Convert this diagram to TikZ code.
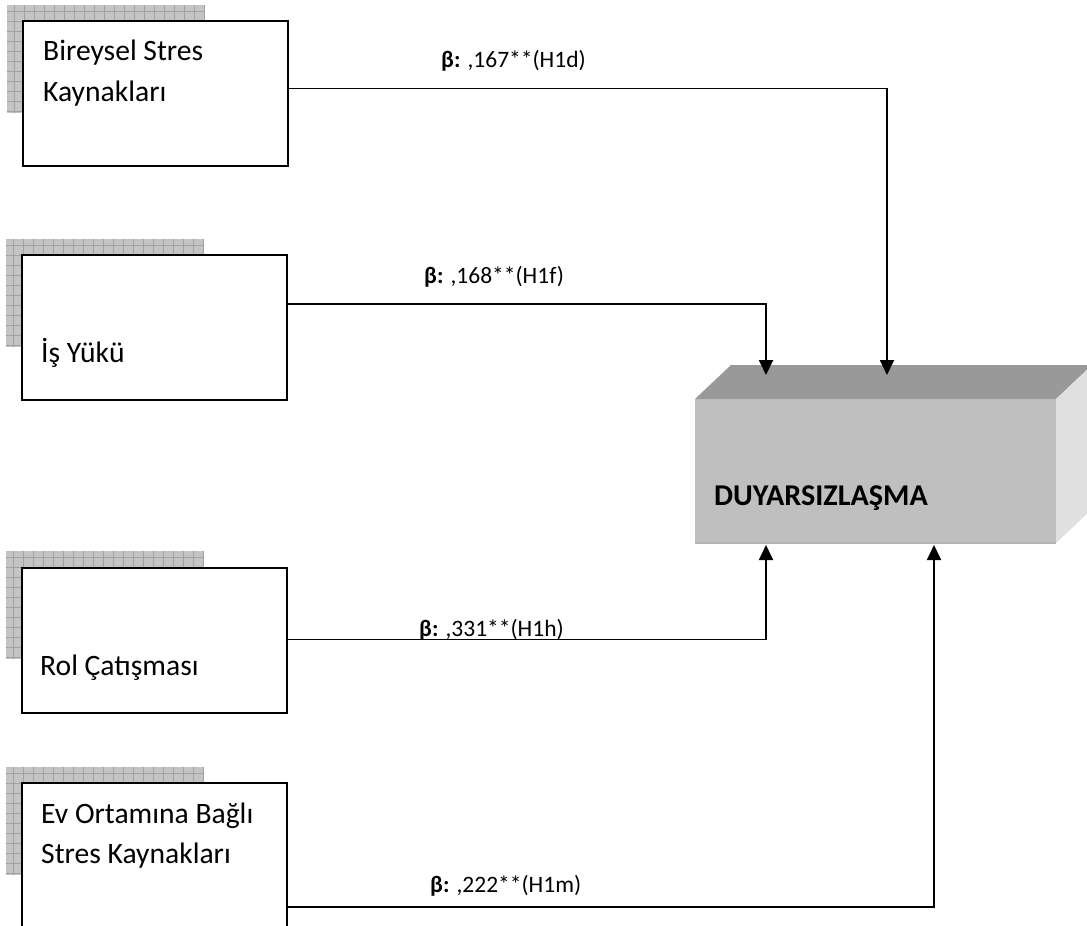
\documentclass[tikz,border=0pt]{standalone}
\usepackage{fontspec}
\setmainfont{Carlito}
\usetikzlibrary{arrows.meta,calc}

\definecolor{shadowgray}{HTML}{C4C4C4}
\definecolor{shadowline}{HTML}{A2A2A2}

\tikzset{
  srcbox/.style={draw=black, line width=2pt, fill=white, anchor=north west,
    minimum width=265, minimum height=145, inner sep=0pt, outer sep=0pt},
  boxtext/.style={anchor=base west, inner sep=0pt, font=\fontsize{29.6}{34}\selectfont},
  lbl/.style={anchor=base west, inner sep=0pt, font=\fontsize{23.5}{28}\selectfont},
  conn/.style={draw=black, line width=1.8pt, -{Triangle[width=14pt,length=15pt]}},
  shadowgrid/.style={draw=shadowline, line width=0.8pt},
}

% patterned shadow at the upper-left of each source box
\newcommand{\gridshadow}[2]{%
  \fill[shadowgray] (#1pt,-#2pt) rectangle ++(198pt,-108pt);
  \foreach \k in {0,10,...,190} \draw[shadowgrid] (#1+\k+7,#2) -- ++(0,108);
  \foreach \k in {0,10,...,100} \draw[shadowgrid] (#1,#2+\k+6) -- ++(198,0);
}

\begin{document}
\begin{tikzpicture}[x=1pt, y=-1pt]
\clip (0,0) rectangle (1087,926);
\fill[white] (0,0) rectangle (1087,926);

% shadows
\gridshadow{7}{5}
\gridshadow{6}{239}
\gridshadow{6}{551}
\gridshadow{6}{767}

% source boxes
\node[srcbox] (b1) at (23,21) {};
\node[srcbox] (b2) at (22,255) {};
\node[srcbox] (b3) at (22,568) {};
\node[srcbox] (b4) at (22,783) {};

\node[boxtext] (t1a) at (43,60) {Bireysel Stres};
\node[boxtext] (t1b) at (43,101.7) {Kaynakları};
\node[boxtext] (t2) at (41,362) {İş Yükü};
\node[boxtext] (t3) at (40,675) {Rol Çatışması};
\node[boxtext] (t4a) at (41,823) {Ev Ortamına Bağlı};
\node[boxtext] (t4b) at (41,863) {Stres Kaynakları};

% 3D target block
\node[fill=black!25, draw=none, anchor=north west, minimum width=361,
      minimum height=144, inner sep=0pt, outer sep=0pt] (duy) at (695,399) {};
\fill[black!40] (duy.north west) -- ($(duy.north west)+(36,-34)$)
   -- ($(duy.north east)+(36,-34)$) -- (duy.north east) -- cycle;
\fill[black!12] (duy.north east) -- ($(duy.north east)+(36,-34)$)
   -- ($(duy.south east)+(36,-34)$) -- (duy.south east) -- cycle;
\draw[black!30, line width=1.2pt] (duy.south west) -- (duy.south east);
\node[anchor=base west, inner sep=0pt, font=\fontsize{30.2}{34}\selectfont\bfseries]
   (duytext) at (714,505) {DUYARSIZLAŞMA};

% arrow end points on the block
\coordinate (in1) at ($(duy.north west)+(71,-24)$);
\coordinate (in2) at ($(duy.north west)+(192,-24)$);
\coordinate (in3) at ($(duy.south west)+(71,2)$);
\coordinate (in4) at ($(duy.south west)+(239,2)$);

% connectors
\draw[conn] ([yshift=5pt]b1.east) -| (in2);
\draw[conn] ([yshift=23.5pt]b2.east) -| (in1);
\draw[conn] ([yshift=1pt]b3.east) -| (in3);
\draw[conn] ([yshift=-51.5pt]b4.east) -| (in4);

% coefficient labels
\node[lbl] (l1) at (441,67) {\textbf{β:} ,167**(H1d)};
\node[lbl] (l2) at (424,283) {\textbf{β:} ,168**(H1f)};
\node[lbl] (l3) at (419,636) {\textbf{β:} ,331**(H1h)};
\node[lbl] (l4) at (430,892) {\textbf{β:} ,222**(H1m)};
\end{tikzpicture}
\end{document}
